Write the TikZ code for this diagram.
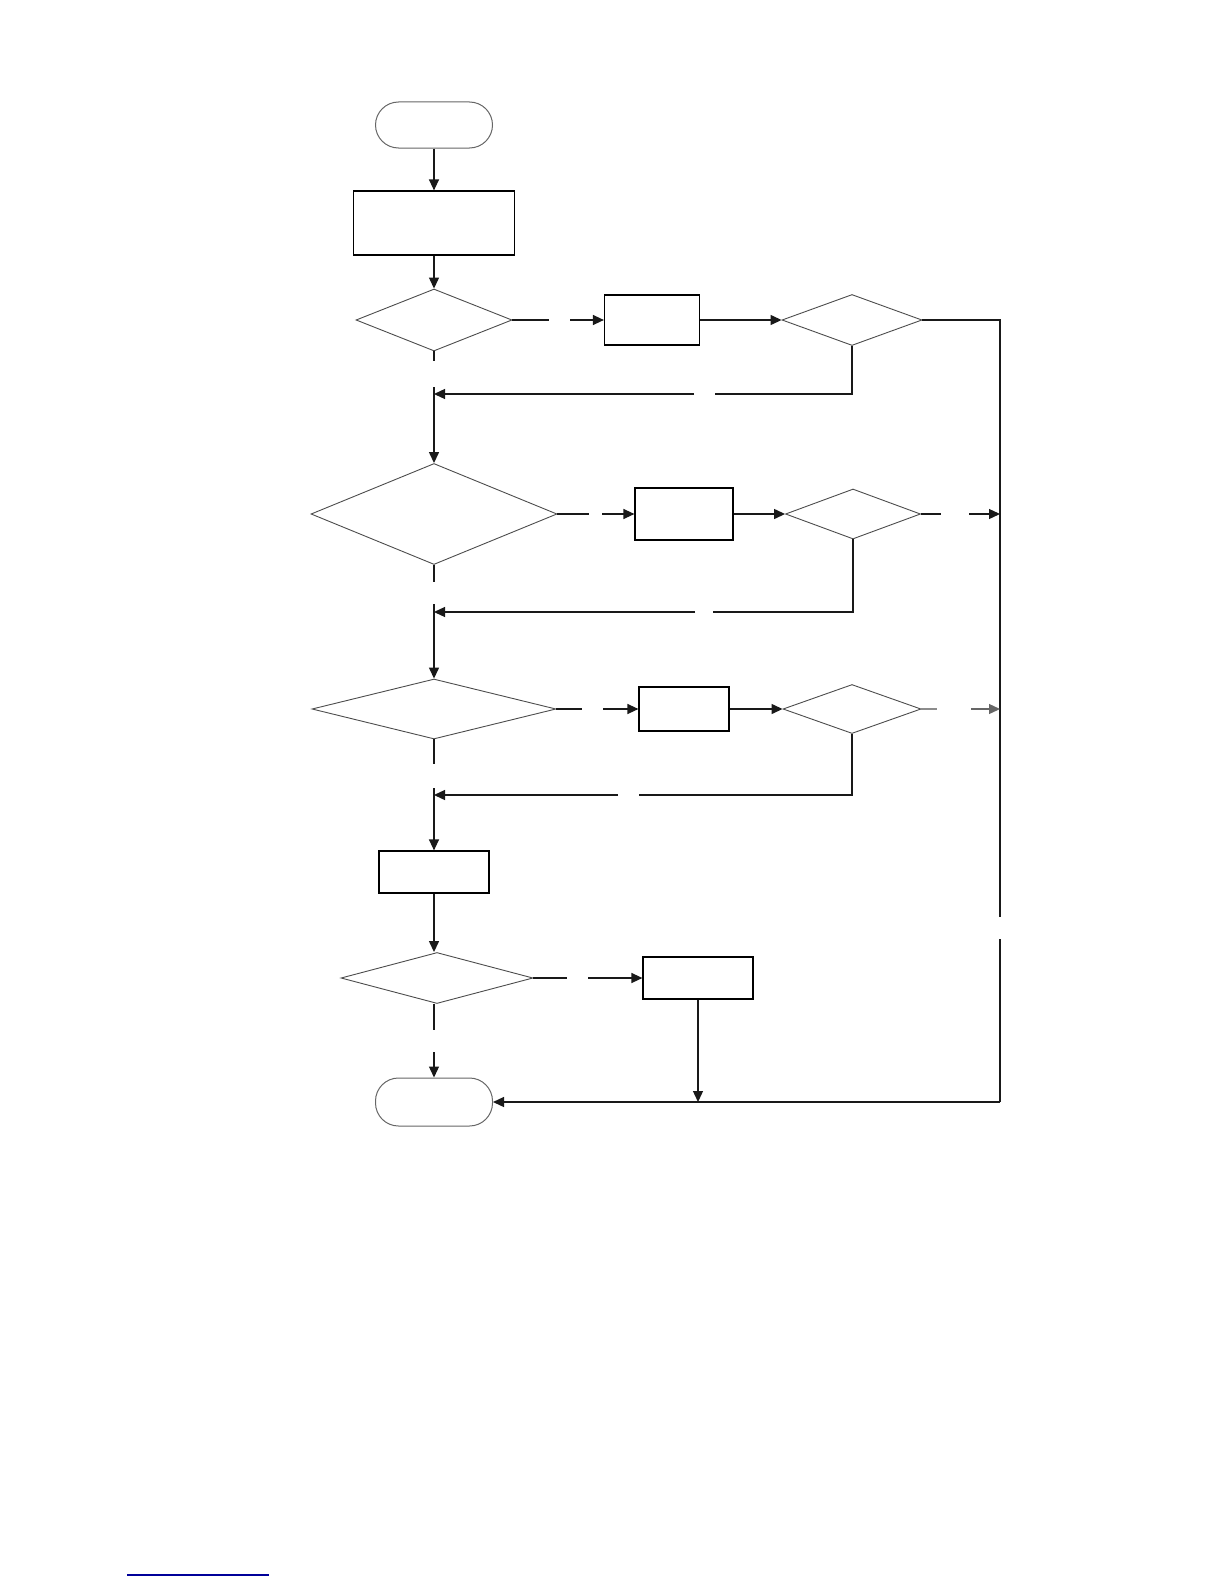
\documentclass[tikz,border=0pt]{standalone}
\usepackage{tikz}
\usetikzlibrary{arrows.meta, positioning, shapes.geometric}

\begin{document}
\begin{tikzpicture}[
  x=0.5pt, y=-0.5pt,
  term/.style={rectangle, rounded corners=11.5pt, draw=black!60, line width=0.5pt, inner sep=0pt},
  proc/.style={rectangle, draw, line width=0.6pt, inner sep=0pt},
  test/.style={diamond, draw=black!70, line width=0.45pt, inner sep=0pt},
  edge/.style={-{Triangle[length=5.5pt,width=5pt]}, line width=0.65pt, draw=black!90},
  link/.style={line width=0.65pt, draw=black!90}
]
\useasboundingbox (0,0) rectangle (1224,1584);

\node[term, minimum width=58.5pt, minimum height=23pt] (start) at (434,125) {};
\node[proc, minimum width=80.5pt, minimum height=32pt] (init) at (434,223) {};
\node[test, minimum width=78pt, minimum height=31pt] (t1) at (434,320) {};
\node[proc, minimum width=47.5pt, minimum height=25pt] (p1) at (652,320) {};
\node[test, minimum width=70pt, minimum height=25.5pt] (c1) at (852,320) {};
\node[test, minimum width=123pt, minimum height=50.5pt] (t2) at (434,514) {};
\node[proc, minimum width=49pt, minimum height=26pt] (p2) at (684,514) {};
\node[test, minimum width=67.5pt, minimum height=25pt] (c2) at (853,514) {};
\node[test, minimum width=122pt, minimum height=30pt] (t3) at (434,709) {};
\node[proc, minimum width=45pt, minimum height=22pt] (p3) at (684,709) {};
\node[test, minimum width=69pt, minimum height=24.5pt] (c3) at (852,709) {};
\node[proc, minimum width=55pt, minimum height=21pt] (calc) at (434,872) {};
\node[test, minimum width=96pt, minimum height=25.5pt] (t4) at (437,978) {};
\node[proc, minimum width=55pt, minimum height=21pt] (out) at (698,978) {};
\node[term, minimum width=58.5pt, minimum height=24pt] (stop) at (434,1102) {};

\coordinate (t1r1) at (549,320);
\coordinate (t1r2) at (570,320);
\coordinate (bus1) at (1000,320);
\coordinate (bus2) at (1000,917);
\coordinate (bus3) at (1000,939);
\coordinate (bus4) at (1000,1102);
\coordinate (bus5) at (1000,514);
\coordinate (bus6) at (1000,709);
\coordinate (c1b1) at (715,394);
\coordinate (c1b2) at (694,394);
\coordinate (m1) at (434,394);
\coordinate (t1d1) at (434,361);
\coordinate (t1d2) at (434,387);
\coordinate (t2r1) at (589,514);
\coordinate (t2r2) at (602,514);
\coordinate (c2r1) at (941,514);
\coordinate (c2r2) at (969,514);
\coordinate (c2b1) at (713,612);
\coordinate (c2b2) at (695,612);
\coordinate (m2) at (434,612);
\coordinate (t2d1) at (434,582);
\coordinate (t2d2) at (434,604);
\coordinate (t3r1) at (582,709);
\coordinate (t3r2) at (603,709);
\coordinate (c3r1) at (937,709);
\coordinate (c3r2) at (971,709);
\coordinate (c3b1) at (639,795);
\coordinate (c3b2) at (618,795);
\coordinate (m3) at (434,795);
\coordinate (t3d1) at (434,764);
\coordinate (t3d2) at (434,788);
\coordinate (t4r1) at (567,978);
\coordinate (t4r2) at (588,978);
\coordinate (t4d1) at (434,1030);
\coordinate (t4d2) at (434,1052);
\coordinate (m4) at (698,1102);
\coordinate (u1) at (127,1575);
\coordinate (u2) at (269,1575);

\draw[edge] (start) -- (init);
\draw[edge] (init) -- (t1);
\draw[link] (t1.east) -- (t1r1);
\draw[edge] (t1r2) -- (p1);
\draw[edge] (p1) -- (c1);
\draw[link] (c1.east) -- (bus1) -- (bus2);
\draw[link] (bus3) -- (bus4);
\draw[edge] (bus4) -- (stop);
\draw[link] (c1.south) |- (c1b1);
\draw[edge] (c1b2) -- (m1);
\draw[link] (t1.south) -- (t1d1);
\draw[edge] (t1d2) -- (t2);

\draw[link] (t2.east) -- (t2r1);
\draw[edge] (t2r2) -- (p2);
\draw[edge] (p2) -- (c2);
\draw[link] (c2.east) -- (c2r1);
\draw[edge] (c2r2) -- (bus5);
\draw[link] (c2.south) |- (c2b1);
\draw[edge] (c2b2) -- (m2);
\draw[link] (t2.south) -- (t2d1);
\draw[edge] (t2d2) -- (t3);

\draw[link] (t3.east) -- (t3r1);
\draw[edge] (t3r2) -- (p3);
\draw[edge] (p3) -- (c3);
\draw[link, draw=black!45] (c3.east) -- (c3r1);
\draw[edge, draw=black!60] (c3r2) -- (bus6);
\draw[link] (c3.south) |- (c3b1);
\draw[edge] (c3b2) -- (m3);
\draw[link] (t3.south) -- (t3d1);
\draw[edge] (t3d2) -- (calc);

\draw[edge] (calc) -- (t4.north -| calc);
\draw[link] (t4.east) -- (t4r1);
\draw[edge] (t4r2) -- (out);
\draw[edge] (out) -- (m4);
\draw[link] (t4.south -| calc) -- (t4d1);
\draw[edge] (t4d2) -- (stop);

\draw[blue!60!black, line width=0.6pt] (u1) -- (u2);
\end{tikzpicture}
\end{document}
